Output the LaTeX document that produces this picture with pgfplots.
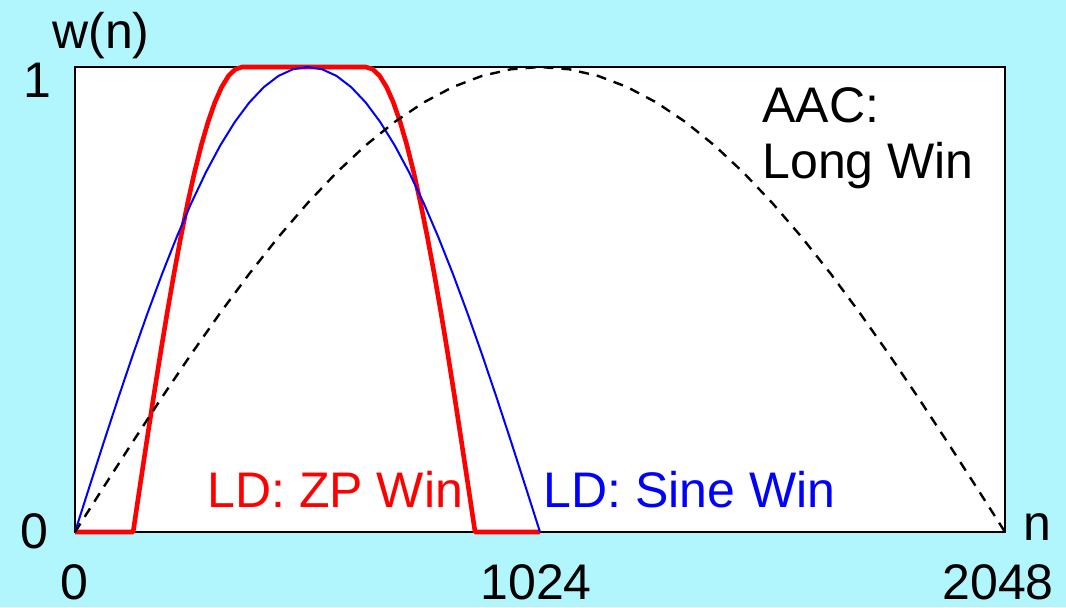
\documentclass[border=0pt]{standalone}
\usepackage{fontspec}
\setmainfont{Liberation Sans}
\usepackage{pgfplots}
\pgfplotsset{compat=1.18}

\definecolor{bgcyan}{RGB}{176,246,252}
\definecolor{zpred}{RGB}{255,0,0}
\definecolor{sineblue}{RGB}{0,0,255}

\begin{document}
\begin{tikzpicture}[every node/.style={inner sep=0pt, anchor=base west, font=\fontsize{25}{30}\selectfont}]
\path[use as bounding box, fill=bgcyan] (0,0) rectangle (533pt,303.5pt);
\begin{axis}[
    at={(37.5pt,37.5pt)}, anchor=south west,
    scale only axis,
    width=465pt, height=232.5pt,
    xmin=0, xmax=2048, ymin=0, ymax=1,
    ticks=none,
    clip=false,
    axis background/.style={fill=white},
    axis line style={black, line width=1pt}
]

% LD: zero-padded window
\addplot[zpred, line width=2.3pt, line join=round] coordinates {
    (0,0) (128,0)
    (143,0.0980) (158,0.1951) (173,0.2903) (188,0.3827)
    (203,0.4714) (218,0.5556) (233,0.6344) (248,0.7071)
    (263,0.7730) (278,0.8315) (293,0.8819) (308,0.9239)
    (323,0.9569) (338,0.9808) (353,0.9952) (368,1)
    (640,1)
    (656,0.9952) (671,0.9808) (686,0.9569) (701,0.9239)
    (716,0.8819) (731,0.8315) (746,0.7730) (761,0.7071)
    (776,0.6344) (791,0.5556) (806,0.4714) (821,0.3827)
    (836,0.2903) (851,0.1951) (866,0.0980) (881,0)
    (1024,0)
};

% LD: sine window
\addplot[sineblue, line width=1pt] coordinates {
    (0,0) (32,0.0980) (64,0.1951) (96,0.2903) (128,0.3827)
    (160,0.4714) (192,0.5556) (224,0.6344) (256,0.7071)
    (288,0.7730) (320,0.8315) (352,0.8819) (384,0.9239)
    (416,0.9569) (448,0.9808) (480,0.9952) (512,1)
    (544,0.9952) (576,0.9808) (608,0.9569) (640,0.9239)
    (672,0.8819) (704,0.8315) (736,0.7730) (768,0.7071)
    (800,0.6344) (832,0.5556) (864,0.4714) (896,0.3827)
    (928,0.2903) (960,0.1951) (992,0.0980) (1024,0)
};

% AAC: long window
\addplot[black, line width=1.2pt, dash pattern=on 5pt off 4pt] coordinates {
    (0,0) (64,0.0980) (128,0.1951) (192,0.2903) (256,0.3827)
    (320,0.4714) (384,0.5556) (448,0.6344) (512,0.7071)
    (576,0.7730) (640,0.8315) (704,0.8819) (768,0.9239)
    (832,0.9569) (896,0.9808) (960,0.9952) (1024,1)
    (1088,0.9952) (1152,0.9808) (1216,0.9569) (1280,0.9239)
    (1344,0.8819) (1408,0.8315) (1472,0.7730) (1536,0.7071)
    (1600,0.6344) (1664,0.5556) (1728,0.4714) (1792,0.3827)
    (1856,0.2903) (1920,0.1951) (1984,0.0980) (2048,0)
};
\end{axis}

% axis texts
\node at (26pt,279.5pt) {w(n)};
\node at (11.5pt,255pt) {1};
\node at (10pt,29.5pt) {0};
\node at (511.5pt,33.5pt) {n};
\node at (30pt,4pt) {0};
\node at (240pt,4pt) {1024};
\node at (471pt,4pt) {2048};

% curve labels
\node at (381pt,242.5pt) {AAC:};
\node at (381pt,214.5pt) {Long Win};
\node[text=zpred] at (103.5pt,50pt) {LD: ZP Win};
\node[text=sineblue] at (271.5pt,50pt) {LD: Sine Win};
\end{tikzpicture}
\end{document}
